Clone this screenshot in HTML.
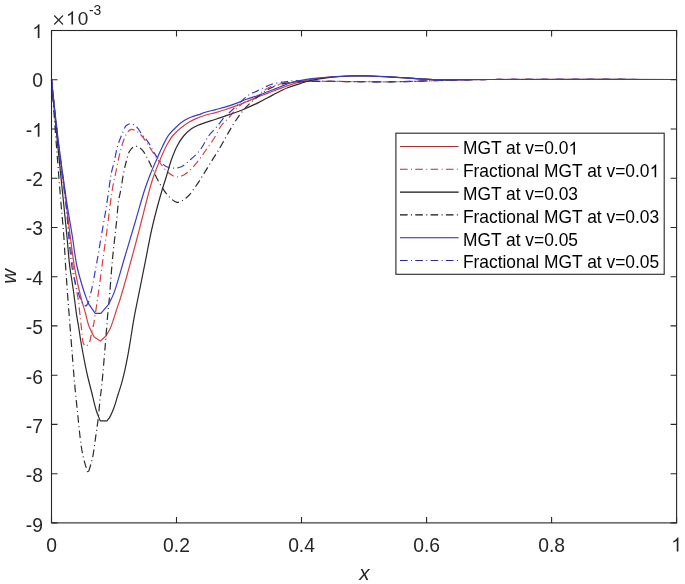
<!DOCTYPE html>
<html><head><meta charset="utf-8"><style>
html,body{margin:0;padding:0;background:#fff;width:685px;height:584px;overflow:hidden}
svg{display:block;will-change:transform}
text{font-family:"Liberation Sans",sans-serif}
</style></head><body>
<svg width="685" height="584" viewBox="0 0 685 584">
<rect x="0" y="0" width="685" height="584" fill="#fff"/>
<g fill="none" stroke-width="1.2" stroke-linejoin="round">
<path d="M51.50 79.70C53.60 99.80 55.42 119.94 57.80 140.00C60.18 160.04 63.57 182.54 65.80 200.00C67.53 213.52 68.72 224.55 70.20 236.00C71.55 246.46 72.84 257.16 74.30 266.00C75.47 273.07 76.71 279.05 78.00 285.00C79.15 290.31 80.32 295.21 81.60 300.00C82.79 304.45 84.20 308.52 85.40 312.80C86.60 317.08 87.32 321.62 88.80 325.70C90.22 329.61 92.27 333.10 94.00 336.80C96.13 338.23 98.27 339.67 100.40 341.10C102.27 339.40 104.13 337.70 106.00 336.00C107.43 333.43 109.05 331.06 110.30 328.30C111.64 325.35 112.67 321.87 113.70 318.80C114.66 315.95 115.31 313.54 116.30 310.50C117.52 306.75 119.06 302.62 120.50 298.00C122.27 292.34 124.19 285.42 126.00 279.00C127.86 272.42 129.68 265.71 131.50 259.00C133.34 252.21 135.27 245.07 137.00 238.50C138.59 232.44 139.95 227.10 141.50 221.00C143.20 214.32 144.94 206.99 146.80 200.00C148.67 192.99 150.45 185.77 152.70 179.00C154.87 172.46 157.53 165.90 160.00 160.00C162.21 154.72 164.35 149.54 166.70 145.20C168.68 141.55 170.49 138.43 172.90 135.50C175.29 132.60 178.27 129.99 181.10 127.70C183.75 125.56 186.66 123.68 189.30 122.10C191.60 120.72 193.54 119.67 196.00 118.60C198.81 117.38 202.10 116.29 205.30 115.30C208.62 114.28 212.18 113.57 215.60 112.60C219.02 111.63 222.40 110.61 225.80 109.50C229.24 108.38 232.68 107.18 236.10 105.90C239.55 104.61 243.04 103.20 246.40 101.80C249.67 100.44 252.63 98.95 256.00 97.60C259.64 96.14 263.27 94.99 267.50 93.40C272.73 91.43 279.13 88.64 285.00 86.60C290.80 84.58 297.87 82.44 302.50 81.20C305.50 80.40 306.88 80.03 310.00 79.50C315.05 78.64 323.33 77.78 330.00 77.20C336.66 76.62 343.33 76.20 350.00 76.00C356.66 75.80 362.66 75.82 370.00 76.00C378.99 76.22 391.01 76.98 400.00 77.50C407.34 77.92 413.33 78.43 420.00 78.80C426.66 79.17 432.19 79.54 440.00 79.70C451.04 79.92 461.62 79.55 480.00 79.50C520.73 79.40 611.00 79.50 676.50 79.50" stroke="#d64040"/>
<path d="M51.50 79.70C53.50 99.80 55.20 119.94 57.50 140.00C59.80 160.04 63.15 182.53 65.30 200.00C66.97 213.52 68.16 224.55 69.50 236.00C70.72 246.46 71.90 257.14 73.00 266.00C73.88 273.06 74.55 279.05 75.50 285.00C76.34 290.31 77.55 294.99 78.30 300.00C79.05 304.99 79.40 309.64 80.00 315.00C80.69 321.19 81.59 329.84 82.20 335.00C82.58 338.27 82.36 341.00 83.20 343.00C83.80 344.45 84.83 346.26 85.80 346.30C86.88 346.35 88.54 344.07 89.40 342.50C90.37 340.72 90.41 338.55 91.00 336.00C91.84 332.38 92.99 327.68 93.90 322.80C95.02 316.80 96.04 309.10 97.00 302.60C97.90 296.53 98.63 291.38 99.50 285.00C100.54 277.40 101.62 268.71 102.80 260.00C104.10 250.45 105.67 240.00 107.00 230.00C108.33 220.00 109.73 207.74 110.80 200.00C111.48 195.09 111.84 192.24 112.60 188.00C113.46 183.18 114.70 177.90 115.80 172.60C116.97 166.95 118.05 160.63 119.40 155.10C120.64 150.04 122.00 144.71 123.50 140.70C124.63 137.68 125.62 134.97 127.10 133.00C128.29 131.42 129.62 129.71 131.20 129.40C132.86 129.08 135.15 130.36 136.90 131.40C138.77 132.51 140.34 134.10 142.00 136.00C144.06 138.37 145.85 141.59 148.00 144.80C150.56 148.63 153.76 153.78 156.30 157.50C158.35 160.50 160.06 163.01 162.00 165.50C163.80 167.82 165.28 170.16 167.50 172.00C169.86 173.97 173.02 176.40 175.90 176.80C178.63 177.18 181.65 176.07 184.30 174.70C187.29 173.15 190.11 170.16 192.70 167.50C195.35 164.78 197.80 161.40 200.00 158.50C201.95 155.92 203.34 153.78 205.30 151.00C207.74 147.53 210.86 143.46 213.50 139.30C216.34 134.83 218.79 128.83 221.70 125.00C223.99 121.98 226.56 120.29 228.90 117.70C231.36 114.98 233.42 111.62 236.10 109.00C238.78 106.38 241.87 103.69 245.00 102.00C247.86 100.46 251.44 100.51 254.00 99.00C256.37 97.60 257.66 95.31 260.00 93.50C262.83 91.30 266.55 88.60 270.00 87.00C273.23 85.50 276.64 84.75 280.00 84.00C283.31 83.26 286.32 82.90 290.00 82.50C294.49 82.01 299.36 81.71 305.00 81.50C312.27 81.23 321.29 81.28 330.00 81.30C339.54 81.33 349.28 81.63 360.00 81.70C372.38 81.78 386.67 81.90 400.00 81.70C413.33 81.50 426.67 80.85 440.00 80.50C453.33 80.15 461.62 79.81 480.00 79.60C520.73 79.13 611.00 79.53 676.50 79.50" stroke="#d64040" stroke-dasharray="7.6 3.4 1 3.3"/>
<path d="M51.50 79.70C53.40 99.80 55.23 119.93 57.20 140.00C59.16 160.03 61.54 182.54 63.30 200.00C64.66 213.52 65.79 224.54 66.90 236.00C67.91 246.45 68.71 257.89 69.70 266.00C70.38 271.56 71.16 275.72 71.80 280.00C72.34 283.61 72.80 286.45 73.30 290.00C73.87 294.05 74.43 298.69 75.00 303.00C75.56 307.26 76.05 311.46 76.70 315.70C77.35 319.99 78.23 324.43 78.90 328.60C79.53 332.51 79.92 335.88 80.60 340.00C81.41 344.89 82.45 350.51 83.50 356.00C84.61 361.83 85.75 368.02 87.10 374.00C88.45 380.02 90.10 386.00 91.60 392.00C93.10 398.00 94.47 404.80 96.10 410.00C97.39 414.10 98.83 417.20 100.20 420.80C102.47 420.80 104.73 420.80 107.00 420.80C107.93 419.57 108.86 418.71 109.80 417.10C111.25 414.62 112.89 410.53 114.20 407.00C115.58 403.28 116.58 399.19 117.80 395.30C119.02 391.42 120.34 387.81 121.50 383.70C122.79 379.13 124.01 373.97 125.10 369.10C126.18 364.27 127.10 359.45 128.00 354.60C128.90 349.75 129.62 345.32 130.50 340.00C131.56 333.59 132.53 326.44 133.90 318.80C135.53 309.74 137.83 299.07 139.80 289.20C141.77 279.33 143.73 269.47 145.70 259.60C147.67 249.73 149.63 238.88 151.60 230.00C153.23 222.66 154.75 216.65 156.50 210.00C158.25 203.32 160.30 196.06 162.10 190.00C163.61 184.91 165.02 180.83 166.50 176.00C168.08 170.85 169.49 165.09 171.30 160.00C173.01 155.19 174.86 150.31 177.00 146.20C178.88 142.59 180.78 139.41 183.20 136.50C185.59 133.62 188.69 130.74 191.40 128.80C193.61 127.22 195.71 126.33 198.00 125.30C200.34 124.25 202.65 123.52 205.30 122.60C208.43 121.52 211.94 120.52 215.60 119.30C219.83 117.89 224.60 116.25 229.20 114.60C233.99 112.89 238.97 111.18 243.80 109.20C248.70 107.19 253.57 104.96 258.40 102.60C263.30 100.20 268.12 97.39 273.00 94.90C277.85 92.43 282.87 89.64 287.60 87.70C291.84 85.96 296.08 84.84 300.00 83.60C303.50 82.50 306.06 81.51 310.00 80.60C315.49 79.33 323.31 78.07 330.00 77.30C336.65 76.54 343.33 76.22 350.00 76.00C356.66 75.78 362.66 75.80 370.00 76.00C378.99 76.24 391.01 77.09 400.00 77.60C407.34 78.02 413.33 78.43 420.00 78.80C426.67 79.17 432.19 79.63 440.00 79.80C451.04 80.03 461.62 79.57 480.00 79.50C520.73 79.35 611.00 79.50 676.50 79.50" stroke="#2a2a2a"/>
<path d="M51.50 79.70C53.00 99.80 54.46 119.93 56.00 140.00C57.53 160.03 59.26 182.54 60.70 200.00C61.81 213.53 62.96 224.54 63.80 236.00C64.56 246.45 64.93 255.69 65.60 266.00C66.32 276.98 67.06 287.31 68.00 300.00C69.20 316.14 71.13 340.23 72.30 355.00C73.09 364.96 73.50 371.01 74.30 380.00C75.24 390.54 76.54 403.17 77.70 414.30C78.81 424.87 79.87 436.99 81.10 445.20C81.92 450.70 82.59 454.29 83.70 458.90C84.86 463.72 86.57 468.63 88.00 473.50C89.43 468.63 91.09 464.33 92.30 458.90C93.77 452.29 94.67 443.73 95.70 436.60C96.65 430.04 97.58 423.90 98.30 417.70C99.00 411.71 99.39 405.65 100.00 400.00C100.56 394.79 101.16 391.14 101.80 385.00C102.81 375.25 104.04 359.64 105.10 347.10C106.14 334.74 107.30 318.79 108.10 310.30C108.52 305.81 108.77 304.56 109.20 300.00C110.04 291.03 111.16 273.15 112.40 260.00C113.61 247.16 115.36 232.95 116.50 222.00C117.37 213.67 117.79 205.89 118.70 200.00C119.32 196.00 120.10 193.75 120.80 190.00C121.70 185.21 122.48 178.78 123.50 173.60C124.43 168.89 125.46 164.22 126.60 160.20C127.56 156.82 128.26 153.35 129.70 151.00C130.82 149.17 132.41 147.52 133.80 146.80C134.82 146.27 135.77 146.03 136.90 146.30C138.59 146.70 140.97 148.65 142.60 150.40C144.38 152.31 145.68 155.16 147.00 157.50C148.23 159.69 149.13 161.55 150.30 164.00C151.79 167.11 153.30 171.07 155.10 174.70C157.04 178.62 159.25 183.00 161.60 186.70C163.80 190.16 166.00 193.64 168.70 196.30C171.21 198.77 174.13 202.07 177.10 202.30C180.13 202.54 183.74 199.89 186.70 197.50C190.24 194.64 193.37 189.58 196.30 185.50C199.12 181.57 201.48 177.52 204.00 173.50C206.51 169.49 208.94 165.36 211.40 161.40C213.80 157.53 216.25 153.93 218.60 150.00C221.05 145.91 223.39 141.51 225.80 137.30C228.19 133.11 230.52 128.74 233.00 124.80C235.33 121.10 237.82 117.46 240.20 114.30C242.28 111.54 244.56 108.79 246.40 106.80C247.72 105.37 248.70 104.49 250.00 103.30C251.45 101.97 253.07 100.56 254.70 99.20C256.40 97.79 258.02 96.46 260.00 95.00C262.37 93.25 265.11 91.13 268.00 89.50C271.08 87.77 274.45 86.14 278.00 85.00C281.75 83.80 285.76 83.16 290.00 82.60C294.70 81.98 299.36 81.81 305.00 81.60C312.27 81.33 321.29 81.39 330.00 81.40C339.54 81.41 349.28 81.65 360.00 81.70C372.38 81.76 386.67 81.90 400.00 81.70C413.33 81.50 426.67 80.85 440.00 80.50C453.33 80.15 461.62 79.81 480.00 79.60C520.73 79.13 611.00 79.53 676.50 79.50" stroke="#2a2a2a" stroke-dasharray="7.6 3.4 1 3.3"/>
<path d="M51.50 79.70C53.73 99.80 55.72 119.94 58.20 140.00C60.68 160.04 63.78 182.56 66.40 200.00C68.43 213.54 70.48 224.54 72.30 236.00C73.96 246.45 74.92 256.72 76.90 266.00C78.65 274.23 81.13 282.34 83.20 289.00C84.82 294.22 86.40 298.20 88.00 302.80C90.40 306.30 92.80 309.80 95.20 313.30C97.10 313.30 99.00 313.30 100.90 313.30C103.40 310.40 105.90 307.50 108.40 304.60C110.20 300.87 111.90 298.27 113.80 293.40C117.07 284.99 120.92 269.93 124.50 258.00C128.16 245.81 132.02 232.79 135.50 221.00C138.69 210.21 141.75 198.68 144.60 190.00C146.70 183.60 148.54 178.70 150.60 173.50C152.48 168.75 154.42 164.52 156.40 160.00C158.41 155.42 160.44 150.53 162.60 146.20C164.59 142.20 166.43 138.18 168.80 134.90C170.95 131.93 173.43 129.58 176.00 127.20C178.57 124.82 181.46 122.36 184.20 120.60C186.60 119.06 189.01 117.97 191.40 117.00C193.61 116.10 195.75 115.66 198.00 114.90C200.38 114.10 202.64 113.12 205.30 112.30C208.42 111.34 212.18 110.50 215.60 109.60C219.01 108.70 222.41 107.92 225.80 106.90C229.24 105.86 232.68 104.66 236.10 103.40C239.55 102.13 242.79 100.62 246.40 99.30C250.32 97.87 255.05 96.55 258.80 95.20C261.97 94.06 264.59 92.93 267.50 91.80C270.42 90.66 273.38 89.55 276.30 88.40C279.21 87.25 282.08 85.99 285.00 84.90C287.91 83.82 290.85 82.72 293.80 81.90C296.69 81.10 299.70 80.53 302.50 80.00C305.09 79.51 306.89 79.19 310.00 78.80C315.06 78.17 323.33 77.48 330.00 77.00C336.66 76.52 343.33 76.08 350.00 75.90C356.66 75.72 362.66 75.70 370.00 75.90C378.99 76.14 391.01 76.97 400.00 77.50C407.34 77.93 413.33 78.43 420.00 78.80C426.66 79.17 432.19 79.54 440.00 79.70C451.04 79.92 461.62 79.55 480.00 79.50C520.73 79.40 611.00 79.50 676.50 79.50" stroke="#3a3ac8"/>
<path d="M51.50 79.70C53.67 99.80 55.61 119.94 58.00 140.00C60.38 160.04 63.96 182.52 65.80 200.00C67.22 213.50 67.65 224.55 68.70 236.00C69.66 246.46 70.60 257.90 71.80 266.00C72.62 271.57 73.50 275.74 74.50 280.00C75.36 283.63 76.28 286.77 77.30 290.00C78.28 293.10 79.38 296.40 80.50 299.00C81.40 301.09 82.12 303.33 83.30 304.50C84.17 305.36 85.30 305.50 86.30 306.00C86.97 304.83 87.71 303.95 88.30 302.50C89.13 300.46 89.70 297.00 90.30 294.70C90.78 292.88 91.12 291.88 91.60 289.80C92.43 286.21 93.53 280.11 94.50 275.00C95.53 269.53 96.53 264.10 97.60 258.00C98.85 250.92 100.18 242.67 101.50 235.00C102.82 227.33 104.27 219.59 105.50 212.00C106.70 204.59 107.79 196.80 108.80 190.00C109.67 184.13 110.20 178.66 111.20 173.60C112.08 169.15 113.30 165.50 114.30 161.20C115.37 156.59 116.11 151.27 117.40 146.80C118.56 142.76 120.00 139.09 121.50 135.50C122.92 132.11 124.08 127.72 126.10 125.80C127.55 124.42 129.49 123.55 131.20 123.70C133.09 123.86 135.19 125.68 136.90 127.30C138.85 129.15 140.19 132.12 142.00 134.50C143.88 136.96 145.96 138.86 148.00 141.80C150.70 145.70 153.95 152.88 156.30 156.20C157.67 158.14 158.63 159.00 160.00 160.50C161.59 162.24 163.13 164.74 165.30 166.00C167.59 167.33 170.84 167.97 173.50 168.10C175.97 168.22 178.26 168.02 180.70 167.00C183.83 165.68 187.18 162.51 190.30 159.80C193.66 156.89 197.17 153.75 200.10 150.00C203.26 145.96 205.44 140.22 208.40 136.20C210.99 132.69 213.91 130.19 216.60 127.00C219.38 123.70 222.27 119.39 224.80 116.70C226.64 114.74 228.08 113.76 230.00 112.00C232.43 109.78 235.57 106.87 238.20 104.40C240.66 102.08 243.10 99.45 245.30 97.60C247.03 96.14 248.37 95.05 250.20 94.00C252.22 92.85 255.05 92.03 257.00 91.10C258.53 90.38 259.31 89.81 261.00 89.00C263.81 87.65 268.43 85.20 272.40 84.00C276.42 82.79 281.17 82.37 285.00 81.80C288.19 81.32 290.68 80.87 293.80 80.70C297.30 80.51 300.53 80.82 305.00 80.90C311.68 81.01 321.29 81.17 330.00 81.30C339.54 81.44 349.28 81.63 360.00 81.70C372.38 81.78 386.67 81.90 400.00 81.70C413.33 81.50 426.67 80.85 440.00 80.50C453.33 80.15 461.62 79.81 480.00 79.60C520.73 79.13 611.00 79.53 676.50 79.50" stroke="#3a3ac8" stroke-dasharray="7.6 3.4 1 3.3"/>
</g>
<rect x="51.5" y="30.5" width="625.1" height="492.4" fill="none" stroke="#262626" stroke-width="1.1"/>
<path d="M51.5 522.9V516.9M51.5 30.5V36.5M176.5 522.9V516.9M176.5 30.5V36.5M301.5 522.9V516.9M301.5 30.5V36.5M426.6 522.9V516.9M426.6 30.5V36.5M551.6 522.9V516.9M551.6 30.5V36.5M676.6 522.9V516.9M676.6 30.5V36.5M51.5 30.5H57.5M676.6 30.5H670.6M51.5 79.7H57.5M676.6 79.7H670.6M51.5 129.0H57.5M676.6 129.0H670.6M51.5 178.2H57.5M676.6 178.2H670.6M51.5 227.5H57.5M676.6 227.5H670.6M51.5 276.7H57.5M676.6 276.7H670.6M51.5 325.9H57.5M676.6 325.9H670.6M51.5 375.2H57.5M676.6 375.2H670.6M51.5 424.4H57.5M676.6 424.4H670.6M51.5 473.7H57.5M676.6 473.7H670.6M51.5 522.9H57.5M676.6 522.9H670.6" stroke="#262626" stroke-width="1.1" fill="none"/>
<g fill="#262626" font-size="19.3"><text transform="translate(43.0 87.36) scale(1 1.03)" text-anchor="end">0</text><text transform="translate(32.27 136.72) scale(1 1.03)" text-anchor="end">-</text><text transform="translate(43.0 186.08) scale(1 1.03)" text-anchor="end">-2</text><text transform="translate(43.0 235.44) scale(1 1.03)" text-anchor="end">-3</text><text transform="translate(43.0 284.80) scale(1 1.03)" text-anchor="end">-4</text><text transform="translate(43.0 334.16) scale(1 1.03)" text-anchor="end">-5</text><text transform="translate(43.0 383.52) scale(1 1.03)" text-anchor="end">-6</text><text transform="translate(43.0 432.88) scale(1 1.03)" text-anchor="end">-7</text><text transform="translate(43.0 482.24) scale(1 1.03)" text-anchor="end">-8</text><text transform="translate(43.0 531.60) scale(1 1.03)" text-anchor="end">-9</text><text transform="translate(51.50 551.5) scale(1 1.05)" text-anchor="middle">0</text><text transform="translate(176.52 551.5) scale(1 1.05)" text-anchor="middle">0.2</text><text transform="translate(301.54 551.5) scale(1 1.05)" text-anchor="middle">0.4</text><text transform="translate(426.56 551.5) scale(1 1.05)" text-anchor="middle">0.6</text><text transform="translate(551.58 551.5) scale(1 1.05)" text-anchor="middle">0.8</text></g>
<path d="M39.46 38.00L37.76 38.00L37.76 27.34Q37.15 27.92 36.15 28.50Q35.15 29.07 34.35 29.36L34.35 27.74Q35.77 27.08 36.84 26.14Q37.90 25.21 38.34 24.32L39.46 24.32ZM39.46 136.72L37.76 136.72L37.76 126.06Q37.15 126.64 36.15 127.22Q35.15 127.79 34.35 128.08L34.35 126.46Q35.77 125.80 36.84 124.86Q37.90 123.93 38.34 123.04L39.46 123.04ZM678.42 551.50L676.73 551.50L676.73 540.64Q676.11 541.22 675.12 541.81Q674.12 542.40 673.32 542.69L673.32 541.04Q674.74 540.37 675.80 539.41Q676.87 538.46 677.31 537.56L678.42 537.56Z" fill="#262626"/>
<path d="M54.2 15.5L63 24.5M63 15.5L54.2 24.5" stroke="#262626" stroke-width="1.1" fill="none"/>
<g fill="#262626">
<path d="M73.08 24.60L71.41 24.60L71.41 14.11Q70.81 14.68 69.82 15.24Q68.84 15.81 68.05 16.09L68.05 14.50Q69.45 13.85 70.50 12.93Q71.55 12.01 71.98 11.14L73.08 11.14Z"/><text x="77.87" y="24.6" font-size="19">0</text>
<text x="88.9" y="14.7" font-size="13.9">-3</text>
</g>
<text x="364.3" y="579.8" font-size="20.6" font-style="italic" text-anchor="middle" fill="#262626">x</text>
<text transform="translate(16.0,276.3) rotate(-90)" font-size="20.4" font-style="italic" text-anchor="middle" fill="#262626">w</text>
<g font-size="17.4" fill="#000">
<rect x="395.9" y="133.2" width="268.3" height="141.1" fill="#fff" stroke="#262626" stroke-width="1.1"/>
<path d="M400 146.5H458.6" stroke="#b03030" stroke-width="1.1"/>
<text transform="translate(462.9 154.40) scale(1 1.06)">MGT at v=0.0</text>
<path d="M574.95 154.40L573.43 154.40L573.43 144.51Q572.87 145.05 571.97 145.58Q571.07 146.12 570.35 146.38L570.35 144.88Q571.63 144.27 572.59 143.40Q573.55 142.53 573.95 141.71L574.95 141.71Z"/>
<path d="M400 169.3H458.6" stroke="#b03030" stroke-width="1.1" stroke-dasharray="7.6 3.4 1 3.3"/>
<text transform="translate(462.9 177.20) scale(1 1.06)">Fractional MGT at v=0.0</text>
<path d="M656.19 177.20L654.66 177.20L654.66 167.31Q654.10 167.85 653.20 168.38Q652.30 168.92 651.58 169.18L651.58 167.68Q652.86 167.07 653.82 166.20Q654.78 165.33 655.18 164.51L656.19 164.51Z"/>
<path d="M400 192.1H458.6" stroke="#111" stroke-width="1.1"/>
<text transform="translate(462.9 200.00) scale(1 1.06)">MGT at v=0.03</text>
<path d="M400 214.9H458.6" stroke="#111" stroke-width="1.1" stroke-dasharray="7.6 3.4 1 3.3"/>
<text transform="translate(462.9 222.80) scale(1 1.06)">Fractional MGT at v=0.03</text>
<path d="M400 237.7H458.6" stroke="#2a2a90" stroke-width="1.1"/>
<text transform="translate(462.9 245.60) scale(1 1.06)">MGT at v=0.05</text>
<path d="M400 260.5H458.6" stroke="#2a2a90" stroke-width="1.1" stroke-dasharray="7.6 3.4 1 3.3"/>
<text transform="translate(462.9 268.40) scale(1 1.06)">Fractional MGT at v=0.05</text>
</g>
</svg>
</body></html>
